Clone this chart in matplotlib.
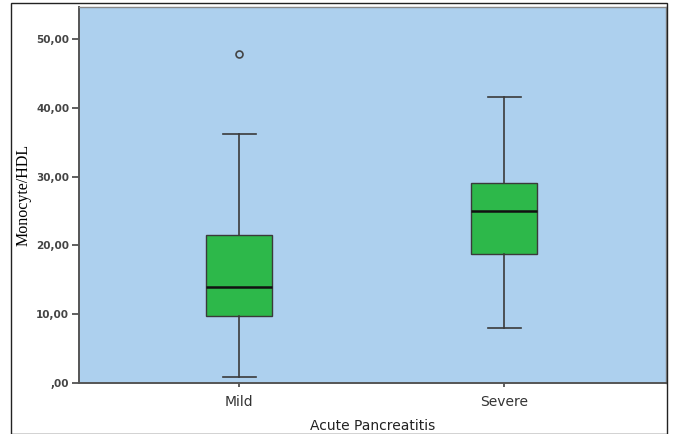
import matplotlib.pyplot as plt
from matplotlib.patches import Rectangle

# summary values
groups = ["Mild", "Severe"]
whislo = [0.8, 8.0]
q1 = [9.7, 18.7]
med = [14.0, 25.0]
q3 = [21.5, 29.1]
whishi = [36.2, 41.6]
fliers = [[47.9], []]
yticks = [0, 10, 20, 30, 40, 50]
ytick_labels = [",00", "10,00", "20,00", "30,00", "40,00", "50,00"]

fig = plt.figure(figsize=(6.75, 4.34), dpi=100)
ax = fig.add_axes([79 / 675, 1 - 382.7 / 434, (666 - 79) / 675, (382.7 - 7) / 434])

# outer frame around the whole chart
fig.patches.append(Rectangle((11 / 675, 0), (667 - 11) / 675, 1 - 3 / 434,
                             transform=fig.transFigure, fill=False,
                             edgecolor="#222222", linewidth=1.0))

stats = []
for i in range(len(groups)):
    stats.append({"whislo": whislo[i], "q1": q1[i], "med": med[i], "q3": q3[i],
                  "whishi": whishi[i], "fliers": fliers[i], "label": groups[i]})

ax.bxp(stats, positions=[1, 2], widths=0.25, patch_artist=True, showfliers=True,
       boxprops=dict(facecolor="#2db84a", edgecolor="#3a3a3a", linewidth=1.0),
       medianprops=dict(color="#111111", linewidth=1.8),
       whiskerprops=dict(color="#3a3a3a", linewidth=1.2),
       capprops=dict(color="#3a3a3a", linewidth=1.2),
       capwidths=0.125,
       flierprops=dict(marker="o", markerfacecolor="none", markeredgecolor="#444444",
                       markersize=5, markeredgewidth=1.2))

ax.set_facecolor("#add0ee")
ax.set_xlim(0.396, 2.611)
ax.set_ylim(0, 54.7)
ax.set_yticks(yticks)
ax.set_yticklabels(ytick_labels, fontsize=7.5, color="#444444", fontweight="bold")
ax.tick_params(axis="y", length=5, width=1.2, color="#444444", pad=2)
ax.tick_params(axis="x", length=3, width=1.2, color="#444444", labelsize=10,
               labelcolor="#333333", pad=6)

for s in ["top", "right"]:
    ax.spines[s].set_color("#888888")
    ax.spines[s].set_linewidth(1.0)
for s in ["left", "bottom"]:
    ax.spines[s].set_color("#555555")
    ax.spines[s].set_linewidth(1.4)

ax.set_ylabel("Monocyte/HDL", family="Liberation Serif", fontsize=11.5, labelpad=3)
ax.set_xlabel("Acute Pancreatitis", fontsize=10, color="#222222", labelpad=7)

fig.savefig("out.png", dpi=100)
